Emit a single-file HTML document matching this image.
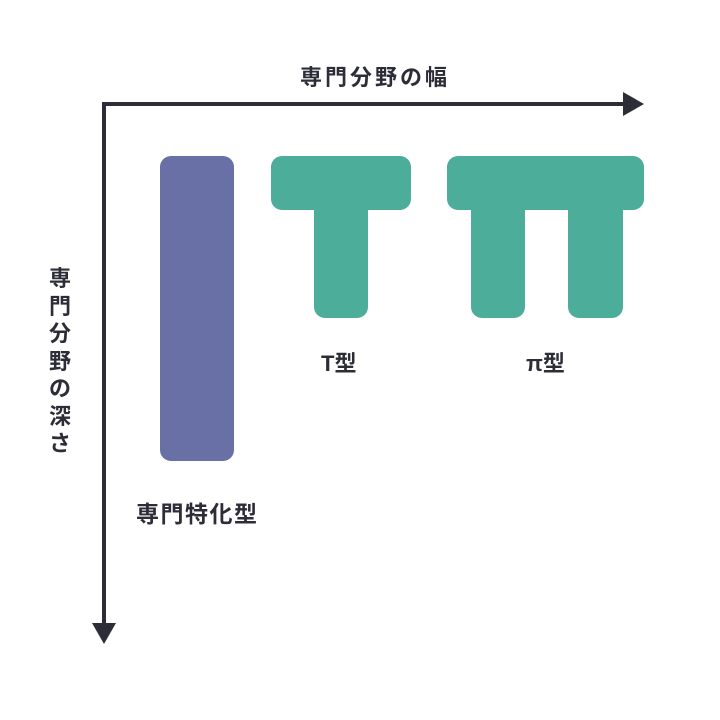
<!DOCTYPE html>
<html><head><meta charset="utf-8"><style>
body{margin:0;background:#fff;width:720px;height:720px;overflow:hidden;position:relative;font-family:"Liberation Sans","Noto Sans CJK JP",sans-serif;font-weight:bold;color:#2d2d38}
.t{position:absolute;white-space:nowrap;font-weight:bold}
</style></head><body>
<svg width="720" height="720" style="position:absolute;left:0;top:0">
<g fill="#2d2d38">
<rect x="102" y="102" width="525" height="4"/>
<rect x="102" y="102" width="4" height="524"/>
<polygon points="623,92 644,104 623,116"/>
<polygon points="92,623 104,644 116,623"/>
</g>
<rect x="160" y="156" width="74" height="305" rx="11" fill="#6870a6"/>
<g fill="#4cad9b">
<rect x="271" y="156" width="140" height="54" rx="11"/>
<rect x="314" y="195" width="54" height="123" rx="11"/>
<rect x="447" y="156" width="197" height="54" rx="11"/>
<rect x="471" y="195" width="54" height="123" rx="11"/>
<rect x="568" y="195" width="55" height="123" rx="11"/>
</g>
</svg>
<div class="t" style="left:300px;top:60px;font-size:22px;letter-spacing:3px">専門分野の幅</div>
<div class="t" style="left:48px;top:265px;font-size:22px;width:24px;line-height:27.5px;white-space:normal;text-align:center">専門分野の深さ</div>
<div class="t" style="left:321px;top:346px;font-size:22px">T型</div>
<div class="t" style="left:526px;top:346px;font-size:22px">π型</div>
<div class="t" style="left:136px;top:495px;font-size:23px;letter-spacing:1.5px">専門特化型</div>
</body></html>
